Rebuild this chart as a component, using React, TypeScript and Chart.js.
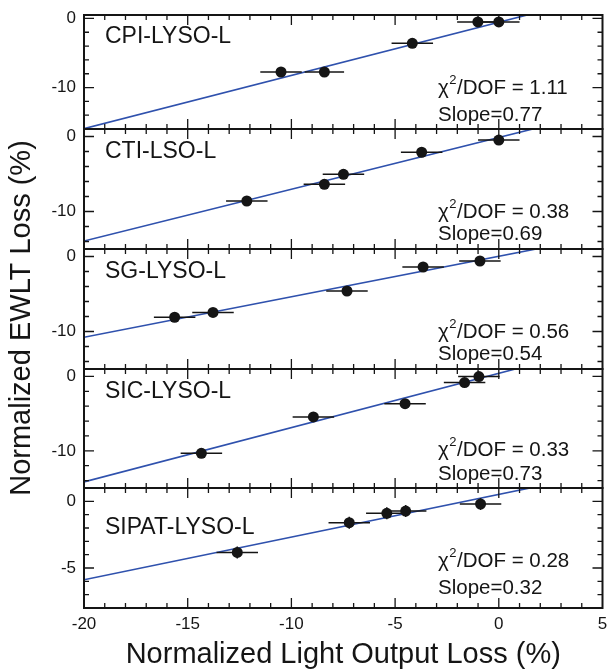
import React, { useEffect, useRef } from 'react';
import { Chart, registerables } from 'chart.js';

Chart.register(...registerables);

// ---------- data ----------
const panelNames = ['CPI-LYSO-L', 'CTI-LSO-L', 'SG-LYSO-L', 'SIC-LYSO-L', 'SIPAT-LYSO-L'];
const chi2Values = ['1.11', '0.38', '0.56', '0.33', '0.28'];
const slopeValues = [0.77, 0.69, 0.54, 0.73, 0.32];
const interceptValues = [-0.55, -0.13, 0.03, 0.42, 0.52];

const xCPI = [-10.5, -8.41, -4.17, -1.01, 0];
const yCPI = [-7.75, -7.75, -3.6, -0.5, -0.5];
const xErrCPI = [1.0, 0.95, 1.0, 1.0, 1.0];

const xCTI = [-12.15, -8.41, -7.49, -3.72, 0];
const yCTI = [-8.6, -6.37, -5.04, -2.1, -0.47];
const xErrCTI = [1.0, 1.0, 1.0, 1.0, 1.0];

const xSG = [-15.63, -13.78, -7.32, -3.65, -0.91];
const ySG = [-8.1, -7.45, -4.6, -1.4, -0.6];
const xErrSG = [1.0, 1.0, 1.0, 1.0, 1.0];

const xSIC = [-14.34, -8.94, -4.52, -1.65, -0.96];
const ySIC = [-10.33, -5.44, -3.67, -0.83, -0.02];
const xErrSIC = [1.0, 1.0, 1.0, 1.0, 1.0];

const xSIPAT = [-12.61, -7.21, -5.4, -4.49, -0.88];
const ySIPAT = [-3.83, -1.6, -0.9, -0.73, -0.2];
const xErrSIPAT = [1.0, 1.0, 1.0, 1.0, 1.0];
const yErrSIPAT = [0.45, 0.45, 0.45, 0.45, 0.45];

const xRange = [-20, 5];
const xTickLabels = [-20, -15, -10, -5, 0, 5];
const yMinValues = [-16, -15, -15, -15, -8];
const yMaxValues = [0.5, 1, 1, 1, 1];
const yTickStep = [2, 2, 2, 2, 1];
const yTickLabels = [[0, -10], [0, -10], [0, -10], [0, -10], [0, -5]];

// ---------- layout / style (not data) ----------
const panelHeights = [114, 120, 120, 119, 120];
const nameY = [-2.6, -2, -2, -2, -2];
const chiY = [-10.1, -10.1, -10.1, -10.0, -4.5];
const slopeY = [-14.0, -13.1, -13.1, -13.1, -6.5];
const FONT = "'Liberation Sans', Arial, Helvetica, sans-serif";
const BLUE = '#2f51ad';
const INK = '#151515';

const xs = [xCPI, xCTI, xSG, xSIC, xSIPAT];
const ys = [yCPI, yCTI, ySG, ySIC, ySIPAT];
const xErrs = [xErrCPI, xErrCTI, xErrSG, xErrSIC, xErrSIPAT];
const yErrs = [null, null, null, null, yErrSIPAT];

const panelPlugin = {
  id: 'panelPlugin',
  beforeDatasetDraw(chart: any, args: any) {
    const ds = chart.data.datasets[args.index];
    const yScale = chart.scales[ds.yAxisID];
    const xScale = chart.scales.x;
    const { ctx, chartArea } = chart;
    ctx.save();
    ctx.beginPath();
    ctx.rect(chartArea.left, yScale.top, chartArea.right - chartArea.left, yScale.bottom - yScale.top);
    ctx.clip();
    if (ds.xErr) {
      ctx.save();
      ctx.strokeStyle = INK;
      ctx.lineWidth = 1.5;
      ds.data.forEach((p: any, i: number) => {
        const py = yScale.getPixelForValue(p.y);
        const px = xScale.getPixelForValue(p.x);
        ctx.beginPath();
        ctx.moveTo(xScale.getPixelForValue(p.x - ds.xErr[i]), py);
        ctx.lineTo(xScale.getPixelForValue(p.x + ds.xErr[i]), py);
        if (ds.yErr) {
          ctx.moveTo(px, yScale.getPixelForValue(p.y - ds.yErr[i]));
          ctx.lineTo(px, yScale.getPixelForValue(p.y + ds.yErr[i]));
        }
        ctx.stroke();
      });
      ctx.restore();
    }
  },
  afterDatasetDraw(chart: any) {
    chart.ctx.restore();
  },
  afterDraw(chart: any) {
    const { ctx, chartArea } = chart;
    const xScale = chart.scales.x;
    const left = chartArea.left;
    const right = chartArea.right;
    ctx.save();
    for (let k = 0; k < 5; k++) {
      const yScale = chart.scales['y' + k];
      const top = yScale.top;
      const bottom = yScale.bottom;
      ctx.strokeStyle = INK;
      ctx.lineWidth = 1.3;
      for (const t of xScale.ticks) {
        const v = t.value;
        if (v <= xRange[0] || v >= xRange[1]) continue;
        const len = v % 5 === 0 ? 10 : 5;
        const px = xScale.getPixelForValue(v);
        ctx.beginPath();
        ctx.moveTo(px, top);
        ctx.lineTo(px, top + len);
        ctx.moveTo(px, bottom);
        ctx.lineTo(px, bottom - len);
        ctx.stroke();
      }
      for (const t of yScale.ticks) {
        const v = t.value;
        if (v <= yScale.min || v >= yScale.max) continue;
        const major = yTickLabels[k].includes(v);
        const len = major ? 10 : 5;
        const py = yScale.getPixelForValue(v);
        ctx.beginPath();
        ctx.moveTo(left, py);
        ctx.lineTo(left + len, py);
        ctx.moveTo(right, py);
        ctx.lineTo(right - len, py);
        ctx.stroke();
      }
      ctx.lineWidth = 2;
      ctx.strokeRect(left, top, right - left, bottom - top);

      ctx.fillStyle = INK;
      ctx.textBaseline = 'middle';
      ctx.textAlign = 'left';
      ctx.font = `23px ${FONT}`;
      ctx.fillText(panelNames[k], 105, yScale.getPixelForValue(nameY[k]));

      const sx = 438;
      const cy = yScale.getPixelForValue(chiY[k]);
      ctx.font = `20.5px ${FONT}`;
      ctx.fillText('\u03c7', sx, cy);
      const wChi = ctx.measureText('\u03c7').width;
      ctx.font = `13px ${FONT}`;
      ctx.fillText('2', sx + wChi + 0.5, cy - 8);
      const w2 = ctx.measureText('2').width;
      ctx.font = `20.5px ${FONT}`;
      ctx.fillText('/DOF = ' + chi2Values[k], sx + wChi + w2 + 1, cy);
      ctx.fillText('Slope=' + slopeValues[k].toFixed(2), sx, yScale.getPixelForValue(slopeY[k]));
    }
    ctx.save();
    ctx.translate(22, 318);
    ctx.rotate(-Math.PI / 2);
    ctx.font = `29px ${FONT}`;
    ctx.textAlign = 'center';
    ctx.textBaseline = 'middle';
    ctx.fillStyle = INK;
    ctx.fillText('Normalized EWLT Loss (%)', 0, 0);
    ctx.restore();
    ctx.restore();
  },
};

export default function App() {
  const ref = useRef<HTMLCanvasElement | null>(null);

  useEffect(() => {
    if (!ref.current) return;
    const datasets: any[] = [];
    for (let k = 0; k < 5; k++) {
      datasets.push({
        label: panelNames[k],
        data: xs[k].map((x, i) => ({ x, y: ys[k][i] })),
        xErr: xErrs[k],
        yErr: yErrs[k],
        yAxisID: 'y' + k,
        showLine: false,
        pointRadius: 5.5,
        pointHoverRadius: 5.5,
        pointBackgroundColor: INK,
        pointBorderColor: INK,
        pointBorderWidth: 0,
        order: 0,
      });
      const a = interceptValues[k];
      const b = slopeValues[k];
      datasets.push({
        label: panelNames[k] + ' fit',
        data: xRange.map((x) => ({ x, y: a + b * x })),
        yAxisID: 'y' + k,
        showLine: true,
        borderColor: BLUE,
        borderWidth: 1.6,
        pointRadius: 0,
        order: 1,
      });
    }

    const scales: any = {
      x: {
        type: 'linear',
        position: 'bottom',
        min: xRange[0],
        max: xRange[1],
        grid: { display: false, drawTicks: false },
        border: { display: false },
        afterBuildTicks: (scale: any) => {
          const t = [];
          for (let v = xRange[0]; v <= xRange[1]; v++) t.push({ value: v });
          scale.ticks = t;
        },
        afterFit: (scale: any) => {
          scale.height = 64;
          scale.paddingLeft = 0;
          scale.paddingRight = 0;
        },
        ticks: {
          autoSkip: false,
          maxRotation: 0,
          padding: 6,
          color: INK,
          font: { family: FONT, size: 17 },
          callback: (v: any) => (xTickLabels.includes(v) ? String(v) : ''),
        },
        title: {
          display: true,
          text: 'Normalized Light Output Loss (%)',
          color: INK,
          font: { family: FONT, size: 29 },
          padding: { top: 0, bottom: 0 },
        },
      },
    };
    for (let k = 0; k < 5; k++) {
      scales['y' + k] = {
        type: 'linear',
        position: 'left',
        stack: 'panels',
        stackWeight: panelHeights[k],
        weight: 10 - k,
        min: yMinValues[k],
        max: yMaxValues[k],
        offset: false,
        grid: { display: false, drawTicks: false },
        border: { display: false },
        afterBuildTicks: (scale: any) => {
          const t = [];
          for (let v = 0; v >= yMinValues[k]; v -= yTickStep[k]) t.push({ value: v });
          scale.ticks = t.reverse();
        },
        afterFit: (scale: any) => {
          scale.width = 84;
          scale.paddingTop = 0;
          scale.paddingBottom = 0;
        },
        ticks: {
          autoSkip: false,
          padding: 8,
          color: INK,
          font: { family: FONT, size: 17 },
          callback: (v: any) => (yTickLabels[k].includes(v) ? String(v) : ''),
        },
      };
    }

    const chart = new Chart(ref.current, {
      type: 'scatter',
      data: { datasets },
      options: {
        responsive: false,
        animation: false,
        events: [],
        layout: { padding: { top: 15, right: 4, left: 0, bottom: 0 } },
        plugins: { legend: { display: false }, tooltip: { enabled: false } },
        scales,
      } as any,
      plugins: [panelPlugin],
    });
    return () => chart.destroy();
  }, []);

  return (
    <div style={{ position: 'fixed', left: 0, top: 0, width: 608, height: 672, background: '#fff' }}>
      <canvas ref={ref} width={608} height={672} style={{ width: 608, height: 672 }} />
    </div>
  );
}
